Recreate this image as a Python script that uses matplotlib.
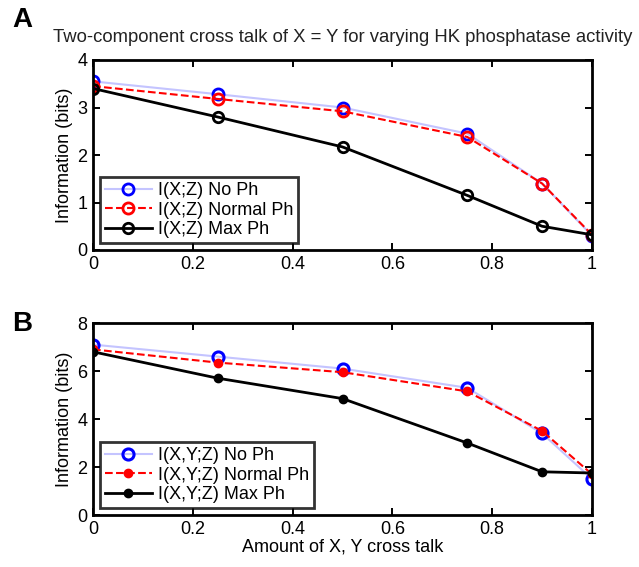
import matplotlib
matplotlib.use("Agg")
import matplotlib.pyplot as plt

x = [0, 0.25, 0.5, 0.75, 0.9, 1.0]
a_noph = [3.55, 3.28, 3.0, 2.45, 1.4, 0.3]
a_normal = [3.45, 3.18, 2.92, 2.38, 1.4, 0.32]
a_max = [3.4, 2.8, 2.17, 1.15, 0.5, 0.32]
b_noph = [7.1, 6.6, 6.1, 5.3, 3.4, 1.5]
b_normal = [6.9, 6.35, 5.95, 5.15, 3.5, 1.7]
b_max = [6.8, 5.7, 4.85, 3.0, 1.8, 1.75]
xticks = [0, 0.2, 0.4, 0.6, 0.8, 1]
xticklabels = ["0", "0.2", "0.4", "0.6", "0.8", "1"]

plt.rcParams['font.family'] = ['Liberation Sans', 'DejaVu Sans']
fs = 13

W, H = 639, 567
fig = plt.figure(figsize=(W / 100, H / 100), dpi=100)
def px_axes(left, top, right, bottom):
    return fig.add_axes([left / W, 1 - bottom / H, (right - left) / W, (bottom - top) / H])

axA = px_axes(93, 60, 592, 250)
axB = px_axes(93, 323, 592, 515)

axA.plot(x, a_noph, color='#c4c4ff', lw=1.5, marker='o', ms=8, mfc='none', mec='blue', mew=2, label='I(X;Z) No Ph')
axA.plot(x, a_normal, color='red', lw=1.5, ls='--', marker='o', ms=8, mfc='none', mec='red', mew=2, label='I(X;Z) Normal Ph')
axA.plot(x, a_max, color='black', lw=2, marker='o', ms=7.5, mfc='none', mec='black', mew=2, label='I(X;Z) Max Ph')
axA.set_ylim(0, 4)
axA.set_yticks([0, 1, 2, 3, 4])

axB.plot(x, b_noph, color='#c4c4ff', lw=1.5, marker='o', ms=8, mfc='none', mec='blue', mew=2.2, label='I(X,Y;Z) No Ph')
axB.plot(x, b_normal, color='red', lw=1.5, ls='--', marker='o', ms=6, mfc='red', mec='red', label='I(X,Y;Z) Normal Ph')
axB.plot(x, b_max, color='black', lw=2, marker='o', ms=6, mfc='black', mec='black', label='I(X,Y;Z) Max Ph')
axB.set_ylim(0, 8)
axB.set_yticks([0, 2, 4, 6, 8])
axB.set_xlabel('Amount of X, Y cross talk', fontsize=fs, labelpad=1)

for ax in (axA, axB):
    ax.set_xlim(0, 1)
    ax.set_xticks(xticks)
    ax.set_xticklabels(xticklabels)
    ax.tick_params(direction='in', top=True, right=True, labelsize=fs, length=5, width=1.4, pad=4)
    for s in ax.spines.values():
        s.set_linewidth(2)
    ax.set_ylabel('Information (bits)', fontsize=fs, labelpad=3)
    leg = ax.legend(loc='lower left', fontsize=fs, frameon=True, fancybox=False,
                    edgecolor='black', borderpad=0.25, labelspacing=0.15, handlelength=2.6,
                    handletextpad=0.35, borderaxespad=0.4)
    leg.get_frame().set_linewidth(2)

fig.text(343 / W, 1 - 38 / H, 'Two-component cross talk of X = Y for varying HK phosphatase activity',
         ha='center', va='center', fontsize=13.3, color='#222222')
fig.text(12 / W, 1 - 20 / H, 'A', fontsize=20, fontweight='bold', ha='left', va='center')
fig.text(12 / W, 1 - 324 / H, 'B', fontsize=20, fontweight='bold', ha='left', va='center')

fig.savefig('out.png', dpi=100)
